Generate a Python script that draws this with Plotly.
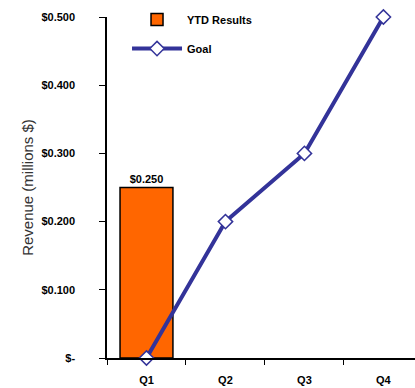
import plotly.graph_objects as go

quarters = ["Q1", "Q2", "Q3", "Q4"]
ytd_quarters = ["Q1"]
ytd_values = [0.25]
goal_values = [0.0, 0.2, 0.3, 0.5]
y_ticks = [0.0, 0.1, 0.2, 0.3, 0.4, 0.5]


def money(v):
    return "$-" if v == 0 else f"${v:.3f}"


FAMILY = "Liberation Sans, Arial, sans-serif"
tick_font = dict(family=FAMILY, size=11, color="black", weight="bold")

fig = go.Figure()
fig.add_trace(go.Bar(
    x=ytd_quarters, y=ytd_values, name="YTD Results", legendgroup="ytd",
    width=0.67,
    marker=dict(color="#FF6600", line=dict(color="black", width=1.5)),
    text=[money(v) for v in ytd_values], textposition="outside",
    textfont=dict(family=FAMILY, size=11, color="black", weight="bold"),
    cliponaxis=False,
))
fig.add_trace(go.Scatter(
    x=quarters, y=goal_values, name="Goal", legendgroup="goal",
    mode="lines+markers",
    line=dict(color="#333399", width=4),
    marker=dict(symbol="diamond", size=11, color="white",
                line=dict(color="#333399", width=1.5)),
    cliponaxis=False,
))

fig.update_layout(
    width=415, height=388,
    margin=dict(l=107, r=0, t=17, b=30),
    paper_bgcolor="white", plot_bgcolor="white",
    showlegend=True,
    legend=dict(x=0.065, y=1.035, xanchor="left", yanchor="top",
                bgcolor="rgba(0,0,0,0)", itemwidth=50, tracegroupgap=10,
                font=dict(family=FAMILY, size=11, color="black", weight="bold")),
    xaxis=dict(type="category", categoryorder="array", categoryarray=quarters,
               range=[-0.5, 3.4], tickson="boundaries", ticks="outside",
               ticklen=5, tickcolor="black", showline=True, linecolor="black",
               linewidth=1.5, showgrid=False, tickfont=tick_font, zeroline=False,
               ticklabelstandoff=11),
    yaxis=dict(range=[0, 0.5], tickvals=y_ticks,
               ticktext=[money(v) for v in y_ticks], ticks="outside",
               ticklen=6, tickcolor="black", showline=True, linecolor="black",
               linewidth=1.5, showgrid=False, zeroline=False, tickfont=tick_font,
               ticklabelstandoff=22,
               title=dict(text="Revenue (millions $)", standoff=4,
                          font=dict(family=FAMILY, size=15, color="#333333"))),
    bargap=0.33,
)

fig.write_html("out.html")
